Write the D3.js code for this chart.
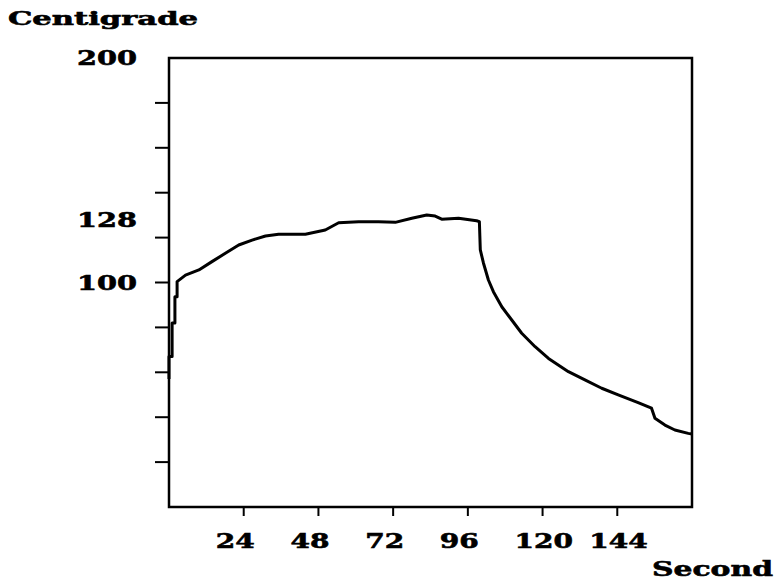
<!DOCTYPE html>
<html>
<head>
<meta charset="utf-8">
<script src="https://cdn.jsdelivr.net/npm/d3@7"></script>
<style>
  body { margin: 0; background: #fff; }
  text { font-family: "DejaVu Serif", "Liberation Serif", serif; font-weight: bold; fill: #000; stroke: #000; stroke-width: 0.6; }
</style>
</head>
<body>
<div id="chart-area"></div>
<script>
// temperature trace
const seconds = [0, 0, 0.6, 1, 1, 1.9, 1.9, 2.6, 2.6, 5.3, 9.6, 13.8, 18.1, 22.4, 26.7, 31, 35.2, 43.8, 50.2, 54.5, 60.9, 67.3, 72.7, 78, 82.8, 85.5, 87.6, 93, 98.8, 99.7, 100, 101, 102.6, 104.2, 106.9, 110.1, 113.3, 117.6, 121.9, 128.3, 133.6, 139, 144.3, 150.7, 155, 156.1, 159.3, 162.5, 166.8, 168];
const temps = [57, 67, 67, 67, 82, 82, 93.7, 93.7, 100.4, 103.3, 105.6, 109.3, 113, 116.7, 118.9, 120.7, 121.5, 121.5, 123.4, 126.6, 127.1, 127.1, 126.8, 128.6, 130.1, 129.6, 128.2, 128.6, 127.5, 127.1, 114.5, 108.7, 101.1, 95.9, 89.2, 83.3, 77.4, 71.4, 66.2, 60.3, 56.6, 52.9, 49.9, 46.5, 44, 39.5, 36.5, 34.3, 32.8, 32.5];

const xTicks = [24, 48, 72, 96, 120, 144];
const yTicks = [20, 40, 60, 80, 100, 120, 140, 160, 180];
const yLabels = [200, 128, 100];

const width = 780, height = 584;
const plotLeft = 169, plotRight = 692, plotTop = 58, plotBottom = 507;

const svg = d3.select("#chart-area")
    .append("svg")
    .attr("width", width)
    .attr("height", height);

const x = d3.scaleLinear().domain([0, 168]).range([plotLeft, plotRight]);
const y = d3.scaleLinear().domain([0, 200]).range([plotBottom, plotTop]);

// frame
svg.append("rect")
    .attr("x", plotLeft).attr("y", plotTop)
    .attr("width", plotRight - plotLeft).attr("height", plotBottom - plotTop)
    .attr("fill", "none")
    .attr("stroke", "#000")
    .attr("stroke-width", 2.5);

// left ticks (no labels except a few)
svg.selectAll("line.ytick")
    .data(yTicks)
    .enter()
    .append("line")
    .attr("class", "ytick")
    .attr("x1", plotLeft - 14).attr("x2", plotLeft)
    .attr("y1", d => y(d)).attr("y2", d => y(d))
    .attr("stroke", "#000")
    .attr("stroke-width", 2);

svg.selectAll("text.ylabel")
    .data(yLabels)
    .enter()
    .append("text")
    .attr("class", "ylabel")
    .attr("x", 77)
    .attr("y", d => y(d) + 7)
    .attr("font-size", 21)
    .attr("textLength", 60)
    .attr("lengthAdjust", "spacingAndGlyphs")
    .text(d => d);

// bottom ticks
svg.selectAll("line.xtick")
    .data(xTicks)
    .enter()
    .append("line")
    .attr("class", "xtick")
    .attr("x1", d => x(d)).attr("x2", d => x(d))
    .attr("y1", plotBottom).attr("y2", plotBottom + 9)
    .attr("stroke", "#000")
    .attr("stroke-width", 2);

svg.selectAll("text.xlabel")
    .data(xTicks)
    .enter()
    .append("text")
    .attr("class", "xlabel")
    .attr("x", d => x(d) - 28)
    .attr("y", 548)
    .attr("font-size", 21)
    .attr("textLength", d => String(d).length * 19.5)
    .attr("lengthAdjust", "spacingAndGlyphs")
    .text(d => d);

// axis titles
svg.append("text")
    .attr("x", 8).attr("y", 25)
    .attr("font-size", 19)
    .attr("textLength", 190)
    .attr("lengthAdjust", "spacingAndGlyphs")
    .text("Centigrade");

svg.append("text")
    .attr("x", 652).attr("y", 576)
    .attr("font-size", 21)
    .attr("textLength", 121)
    .attr("lengthAdjust", "spacingAndGlyphs")
    .text("Second");

// the trace
const line = d3.line()
    .x((d, i) => x(seconds[i]))
    .y(d => y(d));

svg.append("path")
    .datum(temps)
    .attr("d", line)
    .attr("fill", "none")
    .attr("stroke", "#000")
    .attr("stroke-width", 3)
    .attr("stroke-linejoin", "round");
</script>
</body>
</html>
